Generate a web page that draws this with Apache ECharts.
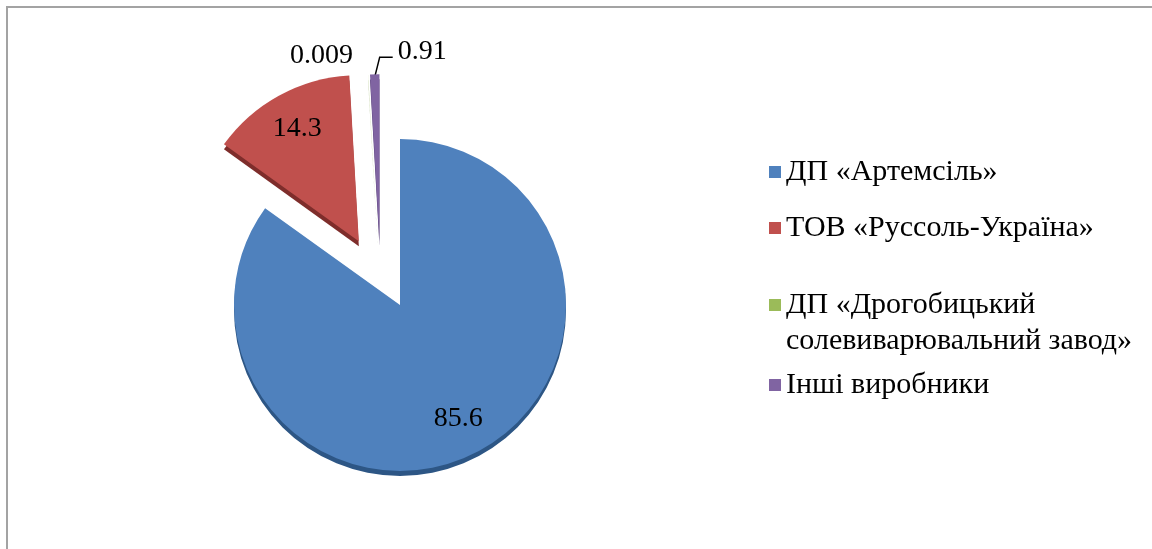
<!DOCTYPE html>
<html>
<head>
<meta charset="utf-8">
<script src="https://cdn.jsdelivr.net/npm/echarts@6/dist/echarts.min.js"></script>
<style>
html, body { margin: 0; padding: 0; background: #fff; overflow: hidden; }
#frame { position: absolute; left: 6px; top: 6px; width: 1300px; height: 700px;
         border-left: 2px solid #a3a3a3; border-top: 2px solid #a3a3a3; }
#chart-container { position: absolute; left: 0; top: 0; width: 1152px; height: 549px; }
</style>
</head>
<body>
<div id="frame"></div>
<div id="chart-container"></div>
<script>
let names = ['ДП «Артемсіль»', 'ТОВ «Руссоль-Україна»', 'ДП «Дрогобицький солевиварювальний завод»', 'Інші виробники'];
let values = [85.6, 14.3, 0.009, 0.91];
let colors = ['#4f81bd', '#c0504d', '#9bbb59', '#8064a2'];
let rimColors = ['#2d5685', '#7e2d2b', '#6a8838', '#533d73'];

// chart geometry
const CX = 400, CY = 305, R = 166;
const explode = [0, 76, 68, 68];
const explodeTilt = [0, -4, -16, -16]; // degrees, 3d perspective of the original
const legendTops = [154, 210, 251, 367];
const FONT = 'Liberation Serif';

let total = values.reduce((a, b) => a + b, 0);
let midAngles = [];
let acc = 0;
for (let i = 0; i < values.length; i++) {
    midAngles.push((acc + values[i] / 2) / total * 2 * Math.PI);
    acc += values[i];
}

function makeLayout(i, cx, cy) {
    return function (p) {
        if (p.dataIndex !== i) return {};
        if (i < 2) {
            // inside labels, pushed out to ~3/4 of radius
            let lr = R * 0.77;
            return {
                x: cx + lr * Math.sin(midAngles[i]),
                y: cy - lr * Math.cos(midAngles[i]),
                align: 'center', verticalAlign: 'middle'
            };
        }
        let r = p.rect;
        if (i === 2) {
            return { x: r.x - 15, y: r.y - 19, align: 'right', verticalAlign: 'middle' };
        }
        let sx = r.x + r.width * 0.5, sy = r.y + 3;
        return {
            x: sx + 23, y: sy - 26, align: 'left', verticalAlign: 'middle',
            labelLinePoints: [[sx, sy], [sx + 5, sy - 20], [sx + 18, sy - 20]]
        };
    };
}

let series = [];
for (let i = 0; i < values.length; i++) {
    let dir = midAngles[i] + explodeTilt[i] * Math.PI / 180;
    let cx = CX + explode[i] * Math.sin(dir);
    let cy = CY - explode[i] * Math.cos(dir);
    let data = names.map(function (n, j) {
        let own = (j === i);
        return {
            name: n,
            value: values[j],
            itemStyle: own ? {
                color: colors[j], shadowColor: rimColors[j], shadowBlur: 0,
                shadowOffsetX: 0, shadowOffsetY: 5
            } : { color: 'rgba(0,0,0,0)' },
            label: { show: own },
            labelLine: { show: own && j === 3 }
        };
    });
    series.push({
        type: 'pie',
        center: [cx, cy],
        radius: [0, R],
        startAngle: 90,
        clockwise: true,
        silent: true,
        avoidLabelOverlap: false,
        emphasis: { disabled: true },
        label: {
            position: i < 2 ? 'inside' : 'outside',
            formatter: '{c}',
            color: '#000', fontFamily: FONT, fontSize: 28
        },
        labelLine: { lineStyle: { color: '#000', width: 1.5 } },
        labelLayout: makeLayout(i, cx, cy),
        data: data
    });
}

let legends = names.map(function (n, i) {
    return {
        orient: 'vertical',
        left: 769,
        top: legendTops[i],
        padding: 0,
        itemWidth: 12,
        itemHeight: 12,
        selectedMode: false,
        icon: 'rect',
        textStyle: { color: '#000', fontFamily: FONT, fontSize: 30, lineHeight: 36 },
        formatter: function (name) {
            // the long name wraps, icon stays on its first line
            if (name.indexOf('Дрогобицький ') >= 0) {
                return '\n' + name.replace('Дрогобицький ', 'Дрогобицький\n');
            }
            return name;
        },
        data: [{ name: n, itemStyle: { color: colors[i], opacity: 1 } }]
    };
});

let myChart = echarts.init(document.getElementById('chart-container'));
myChart.setOption({
    animation: false,
    backgroundColor: 'transparent',
    legend: legends,
    series: series
});
</script>
</body>
</html>
